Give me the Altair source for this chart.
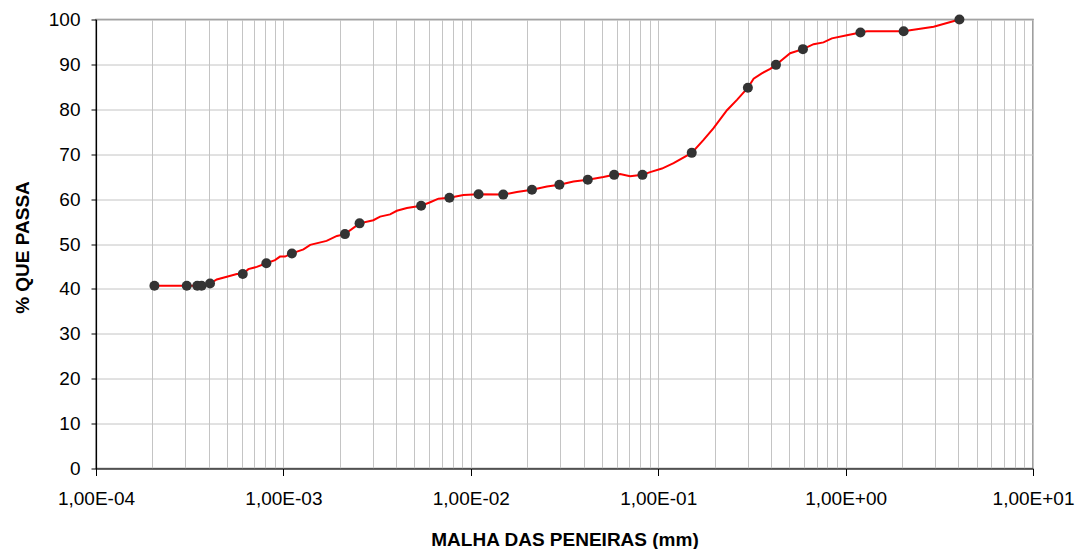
import altair as alt
import pandas as pd

line_x = [2.05e-4, 3.05e-4, 3.47e-4, 4.06e-4, 4.41e-4, 4.99e-4, 5.64e-4, 6.07e-4,
          6.50e-4, 7.21e-4, 8.11e-4, 9.02e-4, 9.59e-4, 1.02e-3, 1.11e-3, 1.28e-3,
          1.39e-3, 1.70e-3, 1.93e-3, 2.13e-3, 2.55e-3, 3.02e-3, 3.28e-3, 3.71e-3,
          4.03e-3, 4.56e-3, 5.43e-3, 6.07e-3, 6.72e-3, 7.69e-3, 9.14e-3, 1.10e-2,
          1.49e-2, 1.76e-2, 2.12e-2, 2.55e-2, 2.97e-2, 3.53e-2, 4.21e-2, 5.10e-2,
          5.82e-2, 6.26e-2, 7.08e-2, 8.24e-2, 9.06e-2, 0.1047, 0.1208, 0.151,
          0.1746, 0.1974, 0.2328, 0.2632, 0.301, 0.323, 0.357, 0.396, 0.425,
          0.457, 0.506, 0.592, 0.675, 0.762, 0.845, 1.016, 1.20, 1.30, 2.04,
          2.21, 2.95, 4.05]
line_y = [40.7, 40.7, 40.7, 41.2, 42.1, 42.7, 43.3, 43.3,
          44.4, 44.9, 45.7, 46.4, 47.2, 47.2, 47.9, 48.8,
          49.8, 50.7, 51.8, 52.2, 54.6, 55.3, 56.1, 56.6,
          57.4, 58.0, 58.5, 59.3, 60.1, 60.3, 60.9, 61.1,
          61.0, 61.6, 62.1, 62.8, 63.2, 63.9, 64.3, 64.9,
          65.4, 65.6, 65.1, 65.4, 66.0, 66.8, 68.0, 70.3,
          73.2, 75.8, 79.8, 82.1, 84.8, 86.8, 88.0, 89.0, 89.9,
          91.0, 92.5, 93.4, 94.5, 94.9, 95.8, 96.5, 97.1, 97.4, 97.4,
          97.6, 98.4, 100.0]

# Measured points (sieve / sedimentation results)
point_x = [2.05e-4, 3.05e-4, 3.47e-4, 3.66e-4, 4.06e-4, 6.07e-4, 8.11e-4, 1.11e-3,
           2.13e-3, 2.55e-3, 5.43e-3, 7.69e-3, 1.10e-2, 1.49e-2, 2.12e-2, 2.97e-2,
           4.21e-2, 5.82e-2, 8.24e-2, 0.151, 0.301, 0.425, 0.592, 1.20, 2.04, 4.05]
point_y = [40.7, 40.7, 40.7, 40.7, 41.2, 43.3, 45.7, 47.9,
           52.2, 54.6, 58.5, 60.3, 61.1, 61.0, 62.1, 63.2,
           64.3, 65.4, 65.4, 70.3, 84.8, 89.9, 93.4, 97.1, 97.4, 100.0]

# Axis ticks / labels
x_major = [1e-4, 1e-3, 1e-2, 1e-1, 1.0, 10.0]
x_tick_labels = ["1,00E-04", "1,00E-03", "1,00E-02", "1,00E-01", "1,00E+00", "1,00E+01"]
x_grid = [float(f"{m}e{k}") for k in range(-4, 1) for m in range(1, 10)] + [10.0]
y_ticks = list(range(0, 101, 10))

x_title = "MALHA DAS PENEIRAS (mm)"
y_title = "% QUE PASSA"

df_line = pd.DataFrame({"x": line_x, "y": line_y})
df_pts = pd.DataFrame({"x": point_x, "y": point_y})

major_test = " || ".join(f"datum.value == {v!r}" for v in x_major)
label_expr = " : ".join(f"datum.value == {v!r} ? '{lab}'" for v, lab in zip(x_major, x_tick_labels)) + " : ''"

FONT = "Liberation Sans"
GRID = "#c4c4c4"

x_enc = alt.X(
    "x:Q",
    scale=alt.Scale(type="log", domain=[1e-4, 10], nice=False),
    axis=alt.Axis(
        values=x_grid,
        labelExpr=label_expr,
        grid=True,
        gridColor=GRID,
        gridWidth=1,
        tickSize={"condition": {"test": major_test, "value": 7}, "value": 0},
        tickColor="black",
        domainColor="black",
        domainWidth=1.2,
        labelFont=FONT,
        labelFontSize=19,
        labelColor="black",
        labelPadding=14,
        labelOverlap=False,
        labelFlush=False,
        labelBaseline="top",
        title=x_title,
        titleFont=FONT,
        titleFontSize=19,
        titleFontWeight="bold",
        titleColor="black",
        titleY=76.5,
        titleBaseline="alphabetic",
    ),
)

y_enc = alt.Y(
    "y:Q",
    scale=alt.Scale(domain=[0, 100], zero=True, nice=False),
    axis=alt.Axis(
        values=y_ticks,
        grid=True,
        gridColor=GRID,
        gridWidth=1,
        tickSize=5,
        tickColor="black",
        domainColor="black",
        domainWidth=1.2,
        labelFont=FONT,
        labelFontSize=19,
        labelColor="black",
        labelPadding=11,
        labelFlush=False,
        title=y_title,
        titleFont=FONT,
        titleFontSize=19,
        titleFontWeight="bold",
        titleColor="black",
        titleX=-68,
        titleY=227.5,
        titleBaseline="alphabetic",
        titleAngle=270,
    ),
)

line = alt.Chart(df_line).mark_line(color="#ff0000", strokeWidth=2).encode(x=x_enc, y=y_enc)
pts = alt.Chart(df_pts).mark_circle(color="#333333", opacity=1, size=100).encode(x="x:Q", y="y:Q")

chart = (
    alt.layer(line, pts)
    .properties(
        width=937,
        height=449,
        autosize=alt.AutoSizeParams(type="none"),
        padding={"left": 88, "top": 11.5, "right": 47, "bottom": 80.5},
        background="white",
    )
    .configure_view(stroke="#808080", strokeWidth=1.5)
)

chart.save("out.html", embed_options={"renderer": "svg", "actions": False})
